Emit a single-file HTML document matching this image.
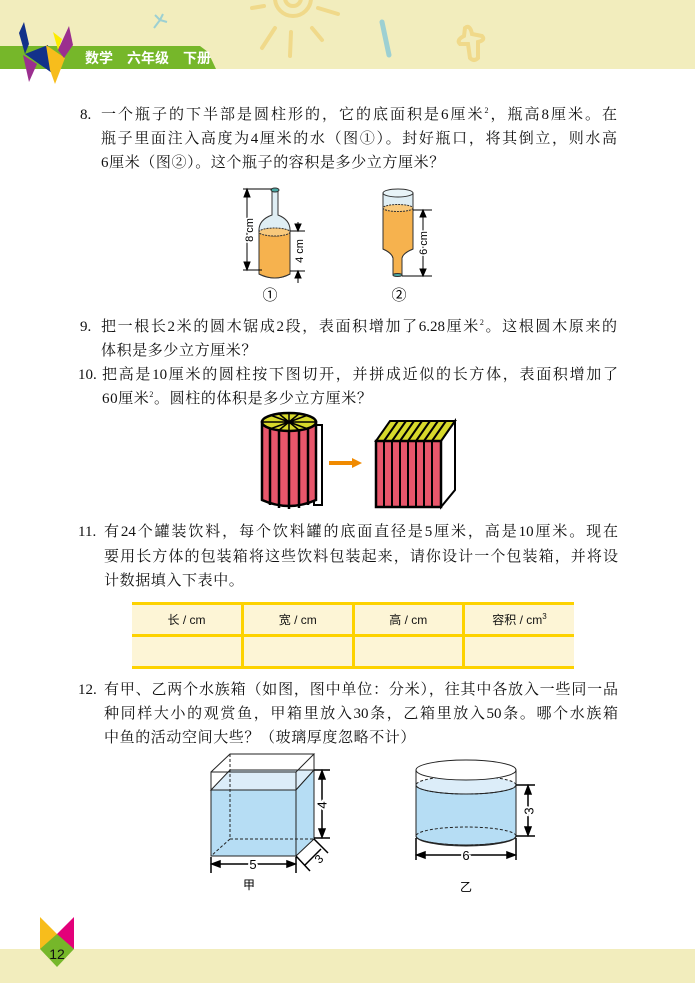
<!DOCTYPE html>
<html><head><meta charset="utf-8"><style>
body{margin:0;width:695px;height:983px;position:relative;background:#fff;overflow:hidden;font-family:"Liberation Sans","Noto Sans CJK SC",sans-serif;color:#111}
.l{position:absolute;font-size:15px;line-height:20px;white-space:nowrap;font-family:"Liberation Serif","Noto Serif CJK SC","Noto Sans CJK SC",serif}
.f{width:516px;text-align:justify;text-align-last:justify;white-space:normal;height:20px;overflow:hidden}
.p{letter-spacing:0.6px}
.n{position:absolute;font-size:15px;line-height:20px;font-family:"Liberation Serif",serif}
sup{font-size:8px;line-height:0}
table{position:absolute;left:132px;top:602px;width:442px;border-collapse:collapse;background:#fdf5d6;table-layout:fixed}
td{border-left:3px solid #fdd200;border-right:3px solid #fdd200;height:27px;text-align:center;font-size:12px;font-family:"Liberation Sans","Noto Sans CJK SC",sans-serif}
tr:first-child td{border-top:3px solid #fdd200;border-bottom:3px solid #fdd200}
tr:last-child td{border-bottom:3px solid #fdd200}
td:first-child{border-left:none}td:last-child{border-right:none}
</style></head><body>
<svg width="695" height="983" style="position:absolute;left:0;top:0">
<rect x="0" y="0" width="695" height="69" fill="#f2edbd"/>
<path d="M0 46H200L208 52L216 69H0Z" fill="#76b72a"/>
<g fill="none" stroke="#f0d98a" stroke-width="4" stroke-linecap="round">
<circle cx="293" cy="-2" r="8"/><circle cx="293" cy="-2" r="18"/>
<path d="M252 8L264 6"/><path d="M318 8L338 14"/><path d="M275 28L262 48"/><path d="M291 32L290 56"/><path d="M312 28L322 40"/>
<path d="M465 28Q470 24 472 34L482 36Q486 40 478 42L478 58Q474 62 470 58L468 44L460 44Q456 40 464 36Z"/>
</g>
<path d="M382 22L389 55" stroke="#9dd0d2" stroke-width="5" stroke-linecap="round"/>
<path d="M155 15L160 20L163 14M160 20L154 28M160 20L167 22" stroke="#9dd0d2" stroke-width="2" fill="none"/>
<polygon points="24,22 29,44 25,54 19,33" fill="#12318a"/>
<polygon points="25,54 48,45 52,73" fill="#12318a"/>
<polygon points="23,55 37,64 29,82" fill="#9b2f8f"/>
<polygon points="46,45 65,58 55,84 50,70" fill="#f7bd1c"/>
<polygon points="53,32 62,39 58,50" fill="#fdeb00"/>
<polygon points="69,26 73,45 64,58 58,50" fill="#9b2f8f"/>
<text x="85" y="63" font-size="14" font-weight="bold" fill="#fff" font-family="Liberation Sans,Noto Sans CJK SC,sans-serif">数学　六年级　下册</text>
<rect x="0" y="949" width="695" height="34" fill="#f2edbd"/>
<polygon points="40,917 57,934 57,949 40,949" fill="#f7bd1c"/>
<polygon points="74,917 57,934 57,949 74,949" fill="#e3007a"/>
<polygon points="40,949 57,934 74,949 57,967" fill="#76b72a"/>
<text x="57" y="959" font-size="14" text-anchor="middle" fill="#111">12</text>
<!-- bottle 1 -->
<g stroke="#333" stroke-width="1">
<path d="M272 191V215Q258 220 259 232V274Q275 282 290 274V232Q291 220 278 215V191Z" fill="#dfeef4"/>
<path d="M259 232Q275 240 290 232V274Q275 282 259 274Z" fill="#f6b24e"/>
<ellipse cx="274.5" cy="232" rx="15.5" ry="4" fill="#f8c97c" stroke-dasharray="2 1"/>
<ellipse cx="275" cy="190" rx="4" ry="2" fill="#4aa9a5"/>
</g>
<g stroke="#000" stroke-width="1" fill="#000">
<path d="M243 189H272M243 270H262M247 189V270M290 231H305M290 271H305M298 222V231M298 271V283" fill="none"/>
<polygon points="247,189 244,197 250,197"/><polygon points="247,270 244,262 250,262"/>
<polygon points="298,231 295,224 301,224"/><polygon points="298,271 295,278 301,278"/>
</g>
<text transform="translate(250,230) rotate(-90)" font-size="11" text-anchor="middle" dominant-baseline="central" fill="#000" stroke="#fff" stroke-width="3" paint-order="stroke">8 cm</text>
<text transform="translate(300,251) rotate(-90)" font-size="11" text-anchor="middle" dominant-baseline="central" fill="#000">4 cm</text>
<text x="270" y="300" font-size="15" text-anchor="middle">①</text>
<!-- bottle 2 -->
<g stroke="#333" stroke-width="1">
<path d="M383 193V249Q392 253 393 258V275H402V258Q403 253 413 249V193Z" fill="#dfeef4"/>
<path d="M383 208Q398 214 413 208V249Q403 253 402 258V275H393V258Q392 253 383 249Z" fill="#f6b24e"/>
<ellipse cx="398" cy="208" rx="15" ry="3.5" fill="#f8c97c" stroke-dasharray="2 1"/>
<ellipse cx="398" cy="193" rx="15" ry="4" fill="#e8f4f8"/>
<ellipse cx="397.5" cy="275" rx="4.5" ry="1.5" fill="#4aa9a5"/>
</g>
<g stroke="#000" stroke-width="1" fill="#000">
<path d="M413 210H432M402 276H432M423 210V276" fill="none"/>
<polygon points="423,210 420,217 426,217"/><polygon points="423,276 420,269 426,269"/>
</g>
<text transform="translate(424,243) rotate(-90)" font-size="11" text-anchor="middle" dominant-baseline="central" fill="#000" stroke="#fff" stroke-width="3" paint-order="stroke">6 cm</text>
<text x="399" y="300" font-size="15" text-anchor="middle">②</text>
<!-- fig 10 -->
<rect x="314" y="425" width="8" height="80" fill="#fff" stroke="#000" stroke-width="2"/>
<path d="M262 422V500Q289 512 316 500V422Z" fill="#e8566b" stroke="#000" stroke-width="2.5"/>
<g stroke="#000" stroke-width="2.5"><path d="M270 428V505M279 430V508M289 431V509M299 430V508M308 428V505"/></g>
<ellipse cx="289" cy="422" rx="27" ry="9" fill="#d7d92b" stroke="#000" stroke-width="2.5"/>
<g stroke="#000" stroke-width="1.5"><path d="M262 422H316M289 413V431M270 415L308 429M270 429L308 415M278 413L300 431M278 431L300 413"/></g>
<polygon points="329,461 352,461 352,458 362,463 352,468 352,465 329,465" fill="#f08a00"/>
<polygon points="441,441 455,421 455,490 441,507" fill="#fff" stroke="#000" stroke-width="2"/>
<polygon points="376,441 390,421 455,421 441,441" fill="#d7d92b" stroke="#000" stroke-width="2"/>
<g stroke="#000" stroke-width="2"><path d="M384 441L398 421M392 441L406 421M400 441L414 421M408 441L422 421M416 441L430 421M424 441L438 421M432 441L446 421"/></g>
<rect x="376" y="441" width="65" height="66" fill="#e8566b" stroke="#000" stroke-width="2.5"/>
<g stroke="#000" stroke-width="2"><path d="M384 441V507M392 441V507M400 441V507M408 441V507M416 441V507M424 441V507M432 441V507"/></g>
<!-- aquarium 甲 -->
<g stroke="#222" stroke-width="1" fill="none">
<polygon points="211,790 230,770 314,770 296,790" fill="#dcedf9"/>
<polygon points="211,790 296,790 314,770 314,839 296,856 211,856" fill="#b6ddf4"/>
<path d="M211,772 L230,754 H314 L296,772 H211 V856 H296 V772 M314,754 V839"/>
<path d="M230,754V839H314M230,839L211,856M230,770H314" stroke-dasharray="3 2"/>
</g>
<g stroke="#000" stroke-width="1.5" fill="#000">
<path d="M314 770H330M314 838H330M322 772V836M211 857V873M296 857V873M213 864H294M296 856L310 871M314 839L328 853M305 865L321 849" fill="none"/>
<polygon points="322,771 319,779 325,779"/><polygon points="322,837 319,829 325,829"/>
<polygon points="212,864 220,861 220,867"/><polygon points="295,864 287,861 287,867"/>
</g>
<text x="253" y="869" font-size="13" text-anchor="middle" fill="#000" stroke="#fff" stroke-width="4" paint-order="stroke">5</text>
<text transform="translate(322,805) rotate(-90)" font-size="13" text-anchor="middle" dominant-baseline="central" fill="#000" stroke="#fff" stroke-width="4" paint-order="stroke">4</text>
<text transform="translate(319,859) rotate(-45)" font-size="12" text-anchor="middle" dominant-baseline="central">3</text>
<text x="249" y="889" font-size="12" text-anchor="middle">甲</text>
<!-- 乙 -->
<g stroke="#222" stroke-width="1">
<path d="M416 785V836A50 10 0 0 0 516 836V785Z" fill="#b6ddf4"/>
<ellipse cx="466" cy="785" rx="50" ry="9" fill="#dcedf9" stroke-dasharray="3 2"/>
<path d="M416 785A50 9 0 0 0 516 785" fill="none"/>
<ellipse cx="466" cy="836" rx="50" ry="9" fill="none" stroke-dasharray="3 2"/>
<path d="M416 836A50 9 0 0 0 516 836" fill="none"/>
<ellipse cx="466" cy="770" rx="50" ry="10" fill="#fff"/>
<path d="M416 770V785M516 770V785" fill="none"/>
</g>
<g stroke="#000" stroke-width="1.5" fill="#000">
<path d="M516 785H535M516 836H535M528 787V834M416 838V860M516 838V860M418 855H514" fill="none"/>
<polygon points="528,786 525,794 531,794"/><polygon points="528,835 525,827 531,827"/>
<polygon points="417,855 425,852 425,858"/><polygon points="515,855 507,852 507,858"/>
</g>
<text x="466" y="860" font-size="13" text-anchor="middle" fill="#000" stroke="#fff" stroke-width="4" paint-order="stroke">6</text>
<text transform="translate(529,811) rotate(-90)" font-size="13" text-anchor="middle" dominant-baseline="central" fill="#000" stroke="#fff" stroke-width="4" paint-order="stroke">3</text>
<text x="466" y="891" font-size="12" text-anchor="middle">乙</text>
</svg>

<div class="n" style="left:80px;top:105px">8.</div>
<div class="l f" style="left:101px;top:105px">一个瓶子的下半部是圆柱形的，它的底面积是6厘米<sup>2</sup>，瓶高8厘米。在</div>
<div class="l f" style="left:101px;top:129px">瓶子里面注入高度为4厘米的水（图①）。封好瓶口，将其倒立，则水高</div>
<div class="l p" style="left:101px;top:153px">6厘米（图②）。这个瓶子的容积是多少立方厘米？</div>

<div class="n" style="left:80px;top:317px">9.</div>
<div class="l f" style="left:101px;top:317px">把一根长2米的圆木锯成2段，表面积增加了6.28厘米<sup>2</sup>。这根圆木原来的</div>
<div class="l p" style="left:101px;top:341px">体积是多少立方厘米？</div>

<div class="n" style="left:78px;top:365px">10.</div>
<div class="l f" style="left:102px;top:365px">把高是10厘米的圆柱按下图切开，并拼成近似的长方体，表面积增加了</div>
<div class="l p" style="left:102px;top:389px">60厘米<sup>2</sup>。圆柱的体积是多少立方厘米？</div>

<div class="n" style="left:78px;top:522px">11.</div>
<div class="l f" style="left:104px;top:522px;width:514px">有24个罐装饮料，每个饮料罐的底面直径是5厘米，高是10厘米。现在</div>
<div class="l f" style="left:104px;top:547px;width:514px">要用长方体的包装箱将这些饮料包装起来，请你设计一个包装箱，并将设</div>
<div class="l p" style="left:104px;top:571px">计数据填入下表中。</div>

<table><tr><td>长 / cm</td><td>宽 / cm</td><td>高 / cm</td><td>容积 / cm<sup>3</sup></td></tr><tr><td></td><td></td><td></td><td></td></tr></table>

<div class="n" style="left:78px;top:680px">12.</div>
<div class="l f" style="left:104px;top:680px;width:514px">有甲、乙两个水族箱（如图，图中单位：分米），往其中各放入一些同一品</div>
<div class="l f" style="left:104px;top:704px;width:514px">种同样大小的观赏鱼，甲箱里放入30条，乙箱里放入50条。哪个水族箱</div>
<div class="l p" style="left:104px;top:728px">中鱼的活动空间大些？（玻璃厚度忽略不计）</div>
</body></html>
